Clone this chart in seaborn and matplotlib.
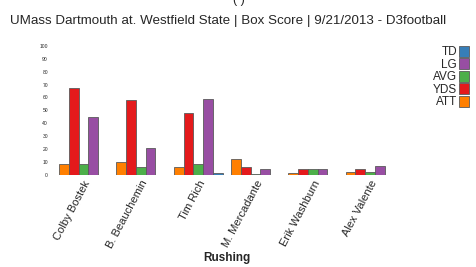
import pandas as pd
import matplotlib
matplotlib.use("Agg")
import matplotlib.pyplot as plt
import seaborn as sns
from matplotlib.patches import Patch

# Rushing box score values
players = ["Colby Bostek", "B. Beauchemin", "Tim Rich", "M. Mercadante", "Erik Washburn", "Alex Valente"]
att = [8, 10, 6, 12, 1, 2]
yds = [67, 58, 48, 6, 4, 4]
avg = [8.4, 5.8, 8.0, 0.5, 4, 2]
lg = [45, 21, 59, 4, 4, 7]
td = [0, 0, 1, 0, 0, 0]

stats = ["ATT", "YDS", "AVG", "LG", "TD"]
colors = {"ATT": "#ff7f00", "YDS": "#e41a1c", "AVG": "#4daf4a", "LG": "#984ea3", "TD": "#377eb8"}

df = pd.DataFrame({"player": players, "ATT": att, "YDS": yds, "AVG": avg, "LG": lg, "TD": td})
long_df = df.melt(id_vars="player", var_name="stat", value_name="value")

sns.set_style("white")
plt.rcParams["font.family"] = ["Liberation Sans", "DejaVu Sans"]

fig = plt.figure(figsize=(4.77, 2.67), dpi=100)
ax = fig.add_axes([0.115, 0.346, 0.721, 0.482])

sns.barplot(data=long_df, x="player", y="value", hue="stat", hue_order=stats,
            palette=colors, width=0.85, edgecolor="#5a5a5a", linewidth=0.6,
            saturation=1, ax=ax, legend=False)

ax.set_ylim(0, 100)
ax.set_xlim(-0.5, 5.5)
ax.set_yticks(range(0, 101, 10))
ax.tick_params(axis="y", labelsize=3.6, length=0, pad=5)
ax.tick_params(axis="x", labelsize=8, length=0, pad=3)
plt.setp(ax.get_xticklabels(), rotation=62, ha="right", rotation_mode="anchor")
ax.set_ylabel("")
ax.set_xlabel("Rushing", fontsize=8.5, fontweight="bold")
ax.xaxis.set_label_coords(0.5, -0.60)
sns.despine(ax=ax, left=True, bottom=True)

handles = [Patch(facecolor=colors[s], edgecolor="#5a5a5a", linewidth=0.6, label=s) for s in reversed(stats)]
fig.legend(handles=handles, loc="upper right", bbox_to_anchor=(0.993, 0.847),
           frameon=False, markerfirst=False, fontsize=8.5, handlelength=0.85,
           handleheight=1.05, handletextpad=0.15, labelspacing=0.0, borderaxespad=0)

fig.text(0.02, 0.91, "UMass Dartmouth at. Westfield State | Box Score | 9/21/2013 - D3football",
         fontsize=9.6, ha="left", va="baseline")
fig.text(0.5, 1.0, "( )", fontsize=9, ha="center", va="center")

fig.savefig("out.png", dpi=100)
